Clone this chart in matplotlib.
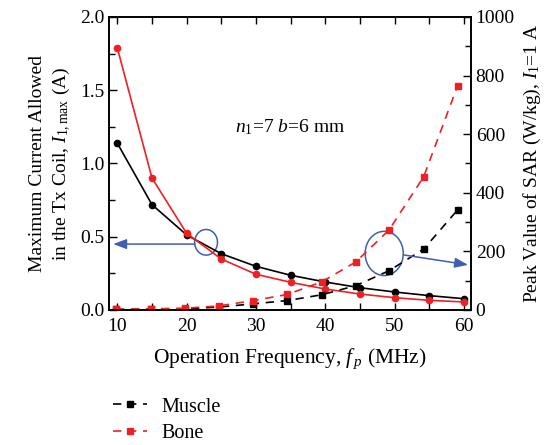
import matplotlib
matplotlib.use('Agg')
import matplotlib.pyplot as plt
from matplotlib.patches import Ellipse
from matplotlib.ticker import MultipleLocator

plt.rcParams['font.family'] = ['Liberation Serif', 'DejaVu Serif']
plt.rcParams['mathtext.fontset'] = 'custom'
plt.rcParams['mathtext.rm'] = 'Liberation Serif'
plt.rcParams['mathtext.it'] = 'Liberation Serif:italic'

# maximum allowed current (left axis)
freq = [10, 15, 20, 25, 30, 35, 40, 45, 50, 55, 60]
imax_muscle = [1.138, 0.719, 0.512, 0.384, 0.298, 0.237, 0.191, 0.152, 0.123, 0.098, 0.077]
imax_bone = [1.788, 0.901, 0.523, 0.348, 0.244, 0.189, 0.143, 0.109, 0.084, 0.066, 0.055]

# peak SAR at I1 = 1 A (right axis)
freq_sar = [9.8, 14.8, 19.8, 24.7, 29.6, 34.5, 39.5, 44.4, 49.2, 54.2, 59.1]
sar_muscle = [2, 3, 4, 10, 21, 32, 52, 83, 134, 208, 342]
sar_bone = [2, 4, 6, 14, 32, 53, 96, 164, 273, 455, 766]

blue = '#3f5fb0'
red = '#ee2024'

fig = plt.figure(figsize=(5.52, 4.45), dpi=100)
ax = fig.add_axes([0.1975, 0.3034, 0.6555, 0.6584])
ax2 = ax.twinx()

ax.plot(freq, imax_muscle, color='black', lw=1.2, marker='o', ms=4.5)
ax.plot(freq, imax_bone, color=red, lw=1.2, marker='o', ms=4.5)

l1, = ax2.plot(freq_sar, sar_muscle, color='black', lw=1.2, ls=(0, (5, 4)),
               marker='s', ms=4.5, label='Muscle')
l2, = ax2.plot(freq_sar, sar_bone, color=red, lw=1.2, ls=(0, (5, 4)),
               marker='s', ms=4.5, label='Bone')

ax.set_xlim(8.8, 61)
ax.set_ylim(0, 2.0)
ax2.set_ylim(0, 1000)

ax.xaxis.set_major_locator(MultipleLocator(10))
ax.xaxis.set_minor_locator(MultipleLocator(5))
ax.yaxis.set_major_locator(MultipleLocator(0.5))
ax.yaxis.set_minor_locator(MultipleLocator(0.25))
ax2.yaxis.set_major_locator(MultipleLocator(200))
ax2.yaxis.set_minor_locator(MultipleLocator(100))

ax.tick_params(axis='x', which='both', direction='in', top=True, length=5, width=1,
               labelsize=14, pad=6)
ax.tick_params(axis='y', which='major', direction='in', length=6, width=1, labelsize=14)
ax.tick_params(axis='y', which='minor', direction='in', length=4, width=1)
ax2.tick_params(axis='y', which='major', direction='in', length=6, width=1, labelsize=14)
ax2.tick_params(axis='y', which='minor', direction='in', length=4, width=1)
ax.yaxis.set_major_formatter(matplotlib.ticker.FormatStrFormatter('%.1f'))
for a in (ax, ax2):
    for s in a.spines.values():
        s.set_linewidth(1.2)

ax.set_xlabel('Operation Frequency, $f_{\\,p}$ (MHz)', fontsize=15.5, labelpad=8)
ax.set_ylabel('Maximum Current Allowed\nin the Tx Coil, $I_{1,\\mathrm{max}}$ (A)',
              fontsize=14, labelpad=5, linespacing=1.3)
ax2.set_ylabel('Peak Value of SAR (W/kg), $I_1$=1 A', fontsize=14, labelpad=5)

ax.text(34.9, 1.25, '$n_1$=7 $b$=6 mm', fontsize=14, ha='center', va='center')

# blue circles and arrows pointing to each axis
ax.add_patch(Ellipse((22.8, 0.462), 3.3, 0.175, fill=False, ec=blue, lw=1.1))
ax.annotate('', xy=(9.4, 0.45), xytext=(21.2, 0.45),
            arrowprops=dict(arrowstyle='-|>,head_length=0.8,head_width=0.3',
                            color=blue, lw=1.1, shrinkA=0, shrinkB=0))
ax2.add_patch(Ellipse((48.5, 193), 5.5, 151, fill=False, ec=blue, lw=1.1))
ax2.annotate('', xy=(60.6, 154), xytext=(51.3, 188),
             arrowprops=dict(arrowstyle='-|>,head_length=0.8,head_width=0.3',
                             color=blue, lw=1.1, shrinkA=0, shrinkB=0))

fig.legend(handles=[l1, l2], loc='upper left', bbox_to_anchor=(0.19, 0.125),
           frameon=False, fontsize=14.5, handlelength=1.7, handletextpad=0.7,
           labelspacing=0.35, borderaxespad=0)

fig.savefig('out.png', dpi=100)
